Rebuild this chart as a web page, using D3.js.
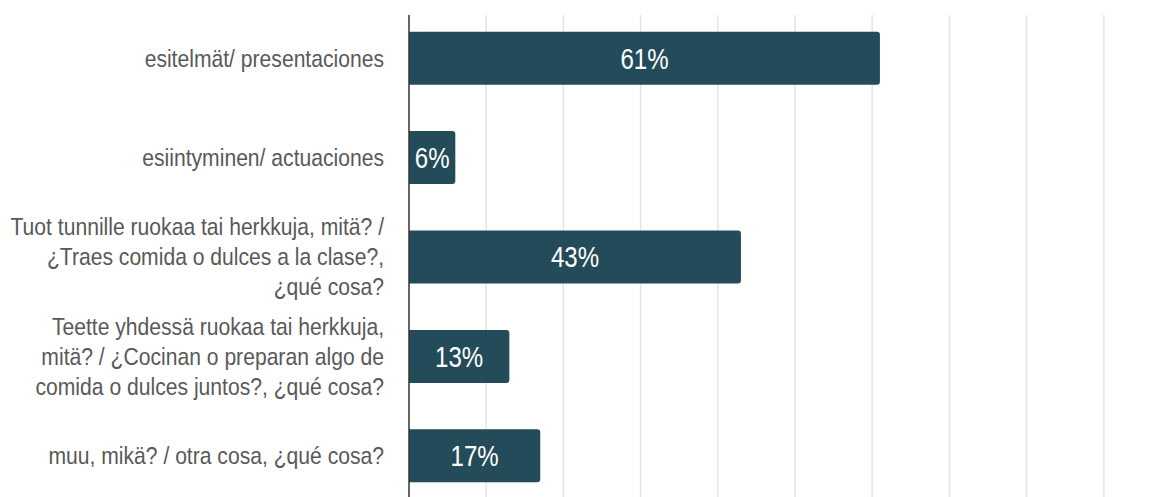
<!DOCTYPE html>
<html>
<head>
<meta charset="utf-8">
<style>
body { margin: 0; background: #fff; }
text { font-family: "Liberation Sans", Arial, sans-serif; }
</style>
</head>
<body>
<svg width="1168" height="497"></svg>
<script src="https://d3js.org/d3.v7.min.js"></script>
<script>

// categories (each label split into its lines as shown)
var categories = [
  ["esitelmät/ presentaciones"],
  ["esiintyminen/ actuaciones"],
  ["Tuot tunnille ruokaa tai herkkuja, mitä? /", "¿Traes comida o dulces a la clase?,", "¿qué cosa?"],
  ["Teette yhdessä ruokaa tai herkkuja,", "mitä? / ¿Cocinan o preparan algo de", "comida o dulces juntos?, ¿qué cosa?"],
  ["muu, mikä? / otra cosa, ¿qué cosa?"]
];
var values = [61, 6, 43, 13, 17];
var gridTicks = [10, 20, 30, 40, 50, 60, 70, 80, 90];

var svg = d3.select("svg"),
    plotLeft = 409,
    plotTop = 15,
    plotBottom = 499;

var squeeze = 0.88; // the source picture is horizontally compressed

var x = d3.scaleLinear()
    .domain([0, 100])
    .range([plotLeft, 1181]);

var y = d3.scaleBand()
    .domain(d3.range(categories.length))
    .range([plotTop, plotBottom])
    .paddingInner(0.467)
    .paddingOuter(0.168);

// gridlines
svg.append("g")
  .selectAll("line")
  .data(gridTicks)
  .enter().append("line")
    .attr("x1", function(d) { return x(d); })
    .attr("x2", function(d) { return x(d); })
    .attr("y1", plotTop)
    .attr("y2", 497)
    .attr("stroke", "#e4e4e4")
    .attr("stroke-width", 1.5);

// bars, right corners rounded
var r = 3;
svg.append("g")
  .selectAll("path")
  .data(values)
  .enter().append("path")
    .attr("fill", "#244b59")
    .attr("d", function(d, i) {
      var x0 = x(0), x1 = x(d), y0 = y(i), y1 = y(i) + y.bandwidth();
      return "M" + x0 + "," + y0 +
        "H" + (x1 - r) +
        "Q" + x1 + "," + y0 + " " + x1 + "," + (y0 + r) +
        "V" + (y1 - r) +
        "Q" + x1 + "," + y1 + " " + (x1 - r) + "," + y1 +
        "H" + x0 + "Z";
    });

// value labels inside the bars
svg.append("g")
  .selectAll("g")
  .data(values)
  .enter().append("g")
    .attr("transform", function(d, i) {
      return "translate(" + ((x(0) + x(d)) / 2) + "," + (y(i) + y.bandwidth() / 2) + ") scale(0.83,1)";
    })
  .append("text")
    .attr("text-anchor", "middle")
    .attr("dy", "0.36em")
    .attr("fill", "#fff")
    .style("font-size", "29px")
    .text(function(d) { return d + "%"; });

// axis line
svg.append("line")
    .attr("x1", x(0))
    .attr("x2", x(0))
    .attr("y1", plotTop)
    .attr("y2", 497)
    .attr("stroke", "#333")
    .attr("stroke-width", 1.5);

// category labels
var lineH = 30;
var lab = svg.append("g")
  .selectAll("g")
  .data(categories)
  .enter().append("g");

lab.selectAll("g")
  .data(function(d, i) {
    return d.map(function(t, j) {
      return { t: t, y: y(i) + y.bandwidth() / 2 + (j - (d.length - 1) / 2) * lineH };
    });
  })
  .enter().append("g")
    .attr("transform", function(d) { return "translate(384," + d.y + ") scale(" + squeeze + ",1)"; })
  .append("text")
    .attr("text-anchor", "end")
    .attr("dy", "0.35em")
    .attr("fill", "#595959")
    .style("font-size", "24px")
    .text(function(d) { return d.t; });

</script>
</body>
</html>
